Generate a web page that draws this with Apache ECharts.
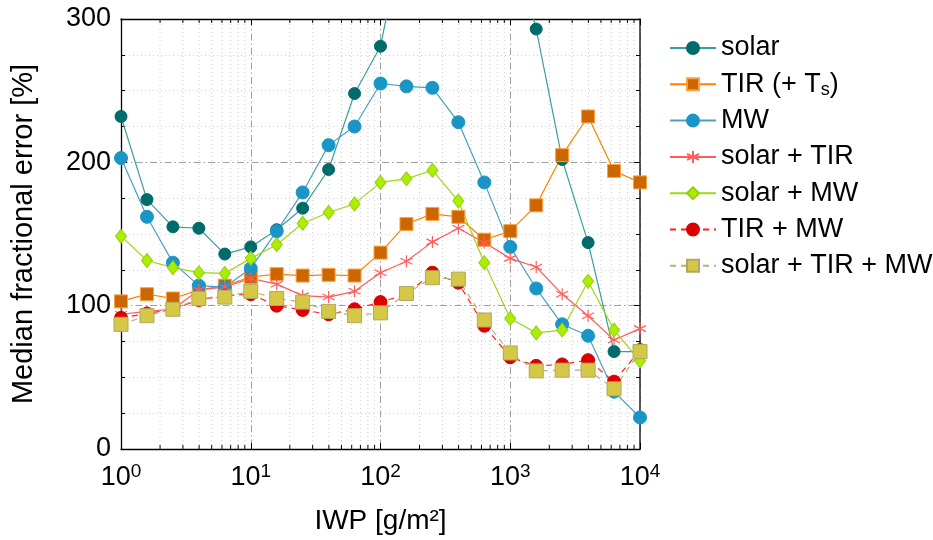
<!DOCTYPE html>
<html>
<head>
<meta charset="utf-8">
<script src="https://cdn.jsdelivr.net/npm/echarts@6/dist/echarts.min.js"></script>
<style>
html,body{margin:0;padding:0;background:#fff;}
#chart{width:933px;height:540px;}
</style>
</head>
<body>
<div id="chart"></div>
<script>
// IWP bin centres [g/m^2]
const iwp = [1, 1.585, 2.512, 3.981, 6.31, 10, 15.85, 25.12, 39.81, 63.1, 100, 158.5, 251.2, 398.1, 631, 1000, 1585, 2512, 3981, 6310, 10000];
// Median fractional error [%]
const solar     = [232, 174, 155, 154, 136, 141, 153, 168, 195, 248, 281, 370, 410, 420, 400, 360, 293, 202, 144, 68, 68];
const tir       = [103, 108, 105, 111, 114, 120, 122, 121, 121.5, 121, 137, 157, 164, 162, 146, 152, 170, 205, 232, 194, 186];
const mw        = [203, 162, 130, 114, 113, 126, 152, 179, 212, 225, 255, 253, 252, 228, 186, 141, 112, 87, 79, 40, 22];
const solarTir  = [94, 96, 97.5, 111, 113, 119, 115, 107, 106, 110, 123, 131, 144.5, 154, 144, 133, 127, 108, 93, 76, 84];
const solarMw   = [148.5, 131.5, 126.5, 123, 122.5, 133, 142.5, 157.5, 165, 171, 186, 188.5, 194.5, 173, 130, 91, 81, 83, 117, 83, 61.5];
const tirMw     = [91.5, 94.5, 97.5, 104, 107, 108, 100, 97, 94, 97.5, 102.5, 108, 123, 116, 86, 64, 58, 59, 62, 47, 69];
const allThree  = [87, 93, 97.5, 105, 106, 110, 105, 102.5, 96, 93, 95, 108.5, 119.5, 118.5, 90, 67, 54.5, 55, 55, 42, 68];

const seriesNames = ['solar', 'TIR (+ Ts)', 'MW', 'solar + TIR', 'solar + MW', 'TIR + MW', 'solar + TIR + MW'];
const yTicks = [0, 100, 200, 300];
const minorX = [2,3,4,5,6,7,8,9, 20,30,40,50,60,70,80,90, 200,300,400,500,600,700,800,900, 2000,3000,4000,5000,6000,7000,8000,9000];

const FONT = '"Liberation Sans", Arial, sans-serif';
const pair = arr => arr.map((v, i) => [iwp[i], v]);
const star = 'path://M0,-6L0,6M-5.2,-3L5.2,3M-5.2,3L5.2,-3';

function mk(name, data, o) {
  return {
    name: name, type: 'line', data: pair(data),
    symbol: o.symbol, symbolSize: o.size,
    lineStyle: { color: o.line, width: 1.2, type: o.dash || 'solid' },
    itemStyle: { color: o.fill, borderColor: o.border || o.fill, borderWidth: o.bw || 1 },
    z: o.z || 3, clip: true
  };
}

const chart = echarts.init(document.getElementById('chart'), null, { renderer: 'canvas' });
const supRich = {
  b: { fontSize: 27, fontFamily: FONT, color: '#000', lineHeight: 32 },
  s: { fontSize: 19, fontFamily: FONT, color: '#000', lineHeight: 20, verticalAlign: 'top' }
};

chart.setOption({
  animation: false,
  backgroundColor: '#fff',
  grid: { left: 121, right: 293, top: 19, bottom: 90 },
  legend: {
    data: seriesNames,
    orient: 'vertical', left: 664, top: 28,
    itemWidth: 46, itemHeight: 15, itemGap: 6.3,
    textStyle: {
      fontSize: 27, fontFamily: FONT, color: '#000', lineHeight: 30,
      rich: { sub: { fontSize: 18, fontFamily: FONT, color: '#000', verticalAlign: 'bottom', lineHeight: 22 } }
    },
    formatter: n => n === 'TIR (+ Ts)' ? 'TIR (+ T{sub|s})' : n
  },
  xAxis: [{
    type: 'log', logBase: 10, min: 1, max: 10000,
    name: 'IWP [g/m²]', nameLocation: 'middle', nameGap: 58,
    nameTextStyle: { fontSize: 28, fontFamily: FONT, color: '#000' },
    axisLine: { show: true, onZero: false, lineStyle: { color: '#000', width: 1.3 } },
    axisTick: { show: true, inside: true, length: 6, lineStyle: { color: '#000' } },
    axisLabel: {
      margin: 13,
      formatter: v => '{b|10}{s|' + Math.round(Math.log10(v)) + '}',
      rich: supRich
    },
    splitLine: { show: true, lineStyle: { color: '#a0a0a0', width: 1, type: [7, 3, 1.5, 3] } }
  }, {
    type: 'log', logBase: 10, min: 1, max: 10000, position: 'top',
    axisLine: { show: true, onZero: false, lineStyle: { color: '#000', width: 1.3 } },
    axisTick: { show: true, inside: true, length: 6, lineStyle: { color: '#000' } },
    axisLabel: { show: false }, splitLine: { show: false }
  }],
  yAxis: [{
    type: 'value', min: 0, max: 300, interval: 100,
    name: 'Median fractional error [%]', nameLocation: 'middle', nameGap: 83,
    nameTextStyle: { fontSize: 29, fontFamily: FONT, color: '#000' },
    axisLine: { show: true, onZero: false, lineStyle: { color: '#000', width: 1.3 } },
    axisTick: { show: true, inside: true, length: 6, lineStyle: { color: '#000' } },
    minorTick: { show: true, splitNumber: 4, length: 4, lineStyle: { color: '#000' } },
    axisLabel: { margin: 10, fontSize: 27, fontFamily: FONT, color: '#000', formatter: v => yTicks.indexOf(v) >= 0 ? String(v) : '' },
    splitLine: { show: true, lineStyle: { color: '#a0a0a0', width: 1, type: [7, 3, 1.5, 3] } },
    minorSplitLine: { show: true, lineStyle: { color: '#cfcfcf', width: 1, type: [1, 3] } }
  }, {
    type: 'value', min: 0, max: 300, interval: 100, position: 'right',
    axisLine: { show: true, onZero: false, lineStyle: { color: '#333', width: 1.6 } },
    axisTick: { show: true, inside: true, length: 6, lineStyle: { color: '#000' } },
    minorTick: { show: true, splitNumber: 4, length: 4, lineStyle: { color: '#000' } },
    axisLabel: { show: false }, splitLine: { show: false }
  }],
  series: [
    {
      name: 'minor', type: 'custom', silent: true, z: 1,
      xAxisIndex: 0, yAxisIndex: 0,
      data: minorX.map(v => [v, 0]),
      encode: { x: 0, y: 1 },
      renderItem: function (params, api) {
        const x = api.value(0);
        const b = api.coord([x, 0]);
        const t = api.coord([x, 300]);
        return {
          type: 'group', children: [
            { type: 'line', shape: { x1: b[0], y1: b[1], x2: t[0], y2: t[1] }, style: { stroke: '#cfcfcf', lineWidth: 1, lineDash: [1, 3] } },
            { type: 'line', shape: { x1: b[0], y1: b[1], x2: b[0], y2: b[1] - 4 }, style: { stroke: '#000', lineWidth: 1 } },
            { type: 'line', shape: { x1: t[0], y1: t[1], x2: t[0], y2: t[1] + 4 }, style: { stroke: '#000', lineWidth: 1 } }
          ]
        };
      }
    },
    mk('solar', solar, { symbol: 'circle', size: 12, line: '#3a9e9e', fill: '#006b6b' }),
    mk('TIR (+ Ts)', tir, { symbol: 'rect', size: 13, line: '#ff8000', fill: '#cc6600', border: '#ffa040' }),
    mk('MW', mw, { symbol: 'circle', size: 13, line: '#4a9fc2', fill: '#1a96c6' }),
    mk('solar + TIR', solarTir, { symbol: star, size: 12, line: '#ff5c5c', fill: 'rgba(0,0,0,0)', border: '#ff5c5c', bw: 1.2 }),
    mk('solar + MW', solarMw, { symbol: 'diamond', size: [11, 14], line: '#9fd61a', fill: '#aaee00', border: '#99cc11' }),
    mk('TIR + MW', tirMw, { symbol: 'circle', size: 13, line: '#ff2020', fill: '#dd0000', dash: [6, 5] }),
    mk('solar + TIR + MW', allThree, { symbol: 'rect', size: 14, line: '#b8b07a', fill: '#d4c846', border: '#b0a860', dash: [6, 5] })
  ]
});
</script>
</body>
</html>
